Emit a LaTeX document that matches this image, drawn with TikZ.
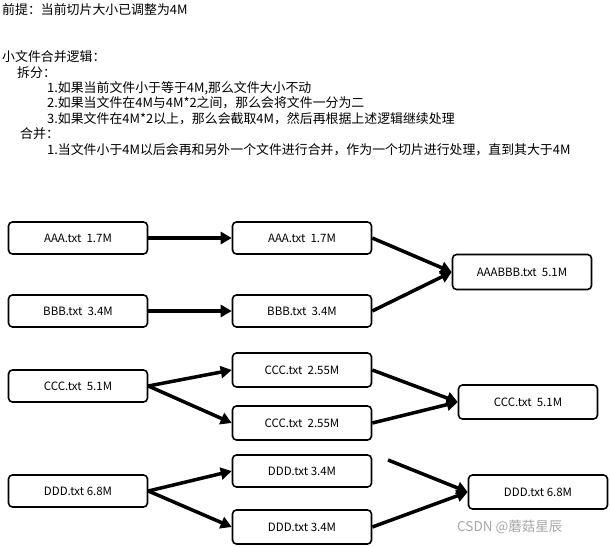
\documentclass[tikz,border=0pt]{standalone}
\usepackage{fontspec}
\setmainfont{Noto Sans CJK SC}
\usetikzlibrary{arrows.meta}
\begin{document}
\begin{tikzpicture}[x=1pt,y=-1pt,
 box/.style={draw,line width=1.6pt,rounded corners=4pt,minimum width=139pt,minimum height=32pt,font=\fontsize{11.5}{13}\selectfont,inner sep=0},
 arr/.style={line width=3.5pt,-{Triangle[length=11pt,width=12pt]}},
 txt/.style={anchor=west,font=\fontsize{12.9}{14}\selectfont,inner sep=0}]
\useasboundingbox (0,0) rectangle (610,546);
\node[txt] (t0) at (2,10) {前提：当前切片大小已调整为4M};
\node[txt] (t1) at (2,57) {小文件合并逻辑：};
\node[txt] (t2) at (17,73) {拆分：};
\node[txt] (t3) at (47,88) {1.如果当前文件小于等于4M,那么文件大小不动};
\node[txt] (t4) at (47,103) {2.如果当文件在4M与4M*2之间，那么会将文件一分为二};
\node[txt] (t5) at (47,119) {3.如果文件在4M*2以上，那么会截取4M，然后再根据上述逻辑继续处理};
\node[txt] (t6) at (20,134) {合并：};
\node[txt] (t7) at (47,150) {1.当文件小于4M以后会再和另外一个文件进行合并，作为一个切片进行处理，直到其大于4M};

\node[box] (a1) at (78,238) {AAA.txt\ \ 1.7M};
\node[box] (a2) at (302,238) {AAA.txt\ \ 1.7M};
\node[box,minimum height=35pt] (ab) at (522,272) {AAABBB.txt\ \ 5.1M};
\node[box] (b1) at (78,311) {BBB.txt\ \ 3.4M};
\node[box] (b2) at (302,311) {BBB.txt\ \ 3.4M};
\node[box] (c1) at (78,386) {CCC.txt\ \ 5.1M};
\node[box,minimum height=34pt] (c2) at (302,370) {CCC.txt\ \ 2.55M};
\node[box,minimum height=34pt] (c3) at (302,423) {CCC.txt\ \ 2.55M};
\node[box,minimum height=34pt] (c4) at (528,402) {CCC.txt\ \ 5.1M};
\node[box] (d1) at (78,491) {DDD.txt 6.8M};
\node[box] (d2) at (302,471) {DDD.txt 3.4M};
\node[box,minimum height=34pt] (d3) at (302,527) {DDD.txt 3.4M};
\node[box,minimum height=34pt] (d4) at (538,492) {DDD.txt 6.8M};
\coordinate (d2o) at (388,460);

\draw[arr] (a1) -- (a2);
\draw[arr] (b1) -- (b2);
\draw[arr] (a2.east) -- (ab.west);
\draw[arr] (b2.east) -- (ab.west);
\draw[arr] (c1.east) -- (c2.west);
\draw[arr] (c1.east) -- (c3.west);
\draw[arr] (c2.east) -- (c4.west);
\draw[arr] (c3.east) -- (c4.west);
\draw[arr] (d1.east) -- (d2.west);
\draw[arr] (d1.east) -- (d3.west);
\draw[arr] (d2o) -- (d4.west);
\draw[arr] (d3.east) -- (d4.west);
\node[anchor=west,text=gray!70,font=\fontsize{13.5}{15}\selectfont,inner sep=0] (wm) at (457,527) {CSDN @蘑菇星辰};
\end{tikzpicture}
\end{document}
